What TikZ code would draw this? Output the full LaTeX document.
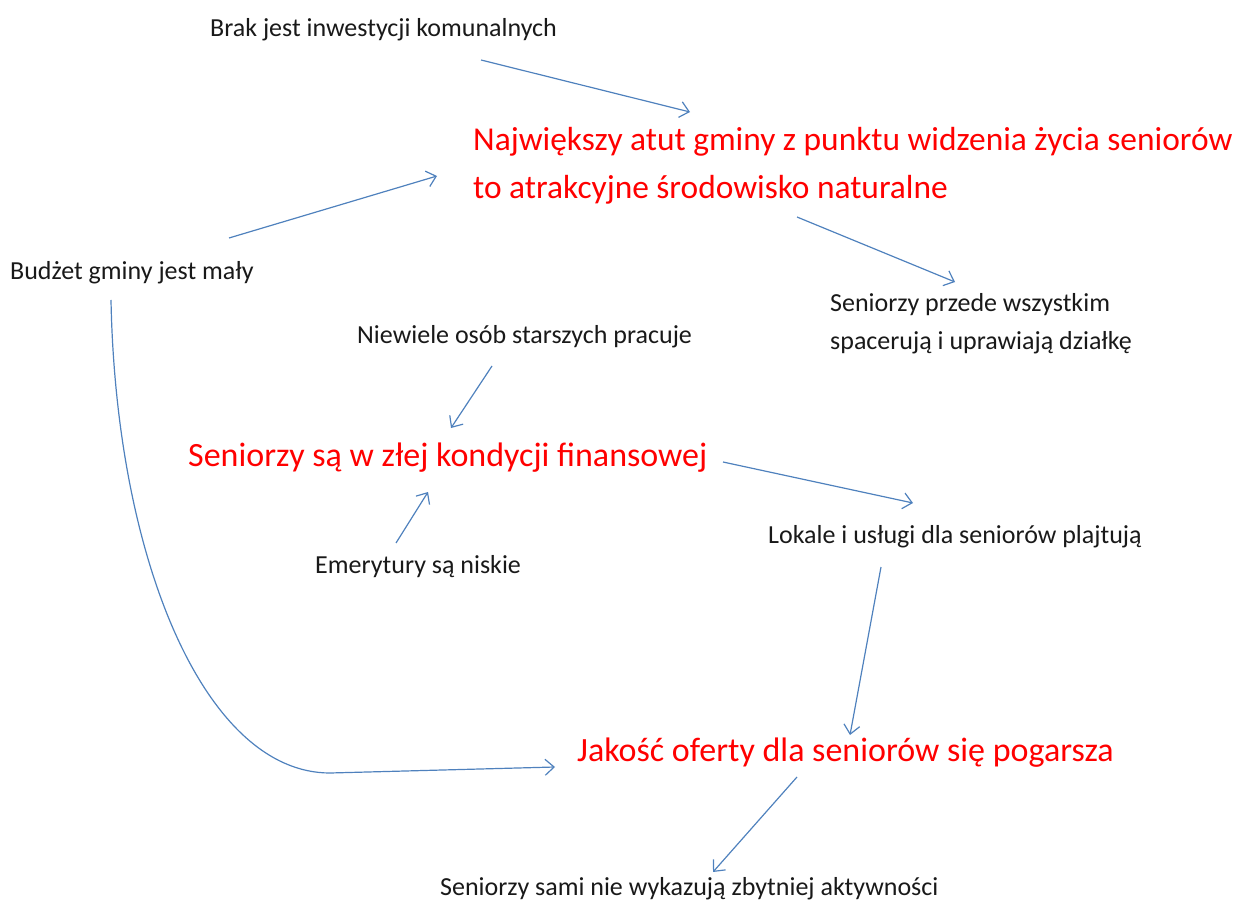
\documentclass[tikz,border=0pt]{standalone}
\usepackage{fontspec}
\setmainfont{Carlito}
\usetikzlibrary{arrows.meta}
\definecolor{arrowblue}{HTML}{4F81BD}
\definecolor{txtred}{HTML}{FF0000}
\tikzset{
  lbl/.style={anchor=west, inner sep=0pt, font=\fontsize{26}{38}\selectfont, text=black!90, align=left},
  key/.style={anchor=west, inner sep=0pt, font=\fontsize{34}{48}\selectfont, text=txtred, align=left},
  keytitle/.style={key, font=\fontsize{33.4}{48}\selectfont},
  link/.style={draw=arrowblue, line width=1.2pt, -{Straight Barb[length=9pt, width=16pt, line width=1.2pt]}}
}
\begin{document}
\begin{tikzpicture}[x=1pt, y=-1pt]
\useasboundingbox (0,0) rectangle (1243,904);
\begin{scope}
\clip (0,0) rectangle (1243,904);
\node[lbl] (brak) at (210,30) {Brak jest inwestycji komunalnych};
\node[keytitle] (atut) at (473,166) {Największy atut gminy z punktu widzenia życia seniorów\\to atrakcyjne środowisko naturalne};
\node[lbl] (budzet) at (10,273) {Budżet gminy jest mały};
\node[lbl] (spacer) at (830,324) {Seniorzy przede wszystkim\\spacerują i uprawiają działkę};
\node[lbl] (niewiele) at (357,337) {Niewiele osób starszych pracuje};
\node[key] (kondycja) at (188,458) {Seniorzy są w złej kondycji finansowej};
\node[lbl] (lokale) at (768,537) {Lokale i usługi dla seniorów plajtują};
\node[lbl] (emerytury) at (315,567) {Emerytury są niskie};
\node[key] (jakosc) at (577,753) {Jakość oferty dla seniorów się pogarsza};
\node[lbl] (aktyw) at (440,889) {Seniorzy sami nie wykazują zbytniej aktywności};

\coordinate (brakE) at (481,60);   \coordinate (atutA) at (690,112);
\coordinate (budzetE) at (229,238); \coordinate (atutB) at (437,176);
\coordinate (atutE) at (797,217);  \coordinate (spacerA) at (955,282);
\coordinate (niewE) at (492,366);  \coordinate (kondA) at (451,428);
\coordinate (emerE) at (396,543);  \coordinate (kondB) at (428,492);
\coordinate (kondE) at (723,462);  \coordinate (lokA) at (913,503);
\coordinate (lokE) at (881,567);   \coordinate (jakA) at (850,735);
\coordinate (budzetS) at (111,300); \coordinate (bend) at (330,773); \coordinate (jakB) at (555,767);
\coordinate (jakE) at (797,777);   \coordinate (aktA) at (713,872);

\draw[link] (brakE) -- (atutA);
\draw[link] (budzetE) -- (atutB);
\draw[link] (atutE) -- (spacerA);
\draw[link] (niewE) -- (kondA);
\draw[link] (emerE) -- (kondB);
\draw[link] (kondE) -- (lokA);
\draw[link] (lokE) -- (jakA);
\draw[link] (budzetS) .. controls (116,560) and (205,773) .. (bend) -- (jakB);
\draw[link] (jakE) -- (aktA);
\end{scope}
\end{tikzpicture}
\end{document}
